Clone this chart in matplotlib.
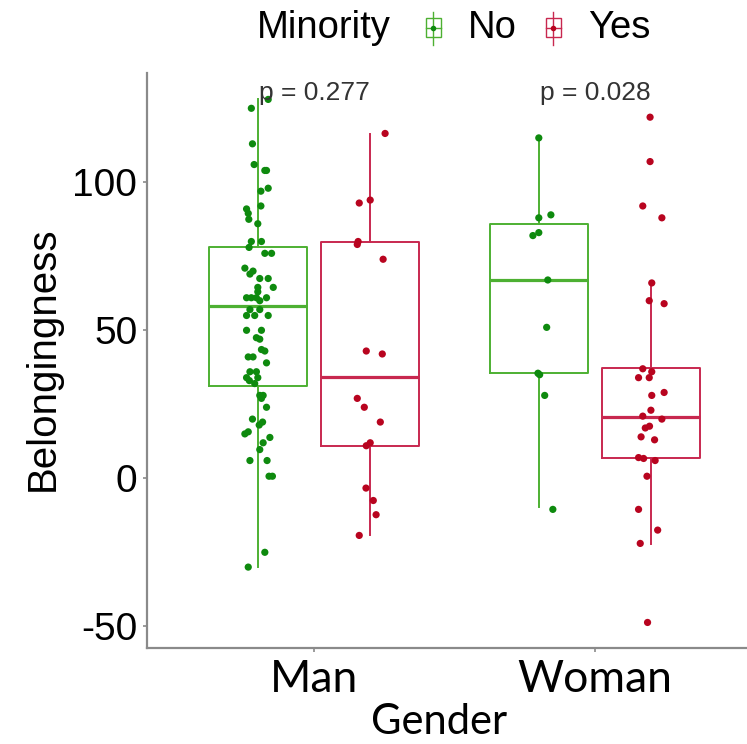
import matplotlib
matplotlib.use("Agg")
import matplotlib.pyplot as plt
from matplotlib.patches import Rectangle
from matplotlib.lines import Line2D

plt.rcParams['axes.unicode_minus'] = False
plt.rcParams['font.family'] = ['Liberation Sans', 'DejaVu Sans']

# ---------------- data ----------------
genders = ["Man", "Woman"]
minority_levels = ["No", "Yes"]

man_no = [128, 125, 113, 106, 104, 104, 98, 97, 92, 91, 89.5, 87.5, 86, 80, 80, 78, 76, 76, 71, 70,
          69, 67.5, 67.5, 64.5, 64.5, 63, 61, 61, 61, 61, 60, 57, 57, 55, 55, 55, 50, 50, 47.5, 47,
          43.5, 43, 41, 41, 39, 36, 36, 34, 34, 33, 32, 28, 28, 27, 24, 20, 19, 18, 15.7, 15,
          13.8, 12, 9.7, 6, 6, 0.7, 0.7, -25, -30]
man_no_jit = [0.037, -0.023, -0.019, -0.013, 0.025, 0.031, 0.037, 0.011, 0.011, -0.04,
              -0.034, -0.032, 0, -0.023, 0.013, -0.031, 0.025, 0.049, -0.046, -0.017,
              -0.028, 0.007, 0.037, 0, 0.055, 0, -0.04, -0.023, -0.005, 0.031,
              0.007, -0.028, 0.007, -0.04, -0.011, 0.037, -0.04, 0.013, -0.005, 0.007,
              0.013, 0.025, -0.034, -0.017, 0.031, -0.028, -0.005, -0.04, 0, -0.03,
              -0.011, 0.007, 0.019, 0.013, 0.031, -0.019, 0.017, 0.005, -0.034, -0.046,
              0.043, 0.019, 0.007, -0.028, 0.033, 0.04, 0.052, 0.025, -0.034]

man_yes = [116.5, 94, 93, 80, 79, 74, 43, 42, 27, 24, 19, 12, 11, -3.3, -7.5, -12.3, -19.3]
man_yes_jit = [0.053, 0, -0.039, -0.043, -0.046, 0.046, -0.014, 0.043, -0.046, -0.021,
               0.036, 0, -0.014, -0.015, 0.011, 0.021, -0.039]

woman_no = [115, 89, 88, 83, 82, 67, 51, 35.5, 35, 28, -10.5]
woman_no_jit = [0, 0.043, 0, 0, -0.021, 0.032, 0.028, -0.003, 0.003, 0.021, 0.05]

woman_yes = [122, 107, 92, 88, 66, 60, 59, 37, 36, 34, 34, 29, 28, 23, 21, 20, 17.6, 17,
             14, 13, 7, 6.7, 6, 0.7, -10.5, -17.5, -22, -48.7]
woman_yes_jit = [-0.004, -0.004, -0.03, 0.038, 0.002, -0.007, 0.046, -0.03, 0.002, -0.045,
                 -0.007, 0.046, 0.002, -0.001, -0.03, 0.038, -0.006, -0.021, -0.036, 0.012,
                 -0.045, -0.027, 0.014, -0.015, -0.045, 0.023, -0.039, -0.013]

# box statistics (order: Man-No, Man-Yes, Woman-No, Woman-Yes)
box_lo = [-30.0, -19.3, -9.7, -22.1]
box_q1 = [31.2, 10.8, 35.5, 6.9]
box_med = [58.3, 34.3, 67.1, 20.8]
box_q3 = [78.3, 79.8, 85.8, 37.2]
box_hi = [128.0, 116.3, 115.0, 65.5]

p_values = ["p = 0.277", "p = 0.028"]
y_ticks = [-50, 0, 50, 100]

# ---------------- styling ----------------
W, H = 747, 744
box_cols = ["#4DB032", "#C8284F"]
pt_cols = ["#0E8A0E", "#B8041F"]
spine_col = "#8a8a8a"

fig = plt.figure(figsize=(W / 100, H / 100), dpi=100)
ax = fig.add_axes([147 / W, 1 - 648 / H, 615 / W, (648 - 73) / H])

group_pos = [1, 2]
dodge = 0.2
positions = []
for g in group_pos:
    positions += [g - dodge, g + dodge]

for i in range(4):
    st = dict(whislo=box_lo[i], q1=box_q1[i], med=box_med[i],
              q3=box_q3[i], whishi=box_hi[i], fliers=[])
    c = box_cols[i % 2]
    ax.bxp([st], positions=[positions[i]], widths=0.35, showfliers=False, showcaps=False,
           boxprops=dict(color=c, linewidth=1.4),
           whiskerprops=dict(color=c, linewidth=1.4),
           medianprops=dict(color=c, linewidth=2.3),
           manage_ticks=False, zorder=2)

series = [(man_no, man_no_jit), (man_yes, man_yes_jit),
          (woman_no, woman_no_jit), (woman_yes, woman_yes_jit)]
for i, (vals, jit) in enumerate(series):
    xs = [positions[i] + j for j in jit]
    ax.scatter(xs, vals, s=27, color=pt_cols[i % 2], edgecolors='none', zorder=3)

for g, p in zip(group_pos, p_values):
    ax.text(g, 127.8, p, ha='center', va='baseline', fontsize=19, color='#333333', zorder=4)

ax.set_xlim(1 - 167 / 281, 1 + 448 / 281)
ax.set_ylim((478.3 - 648) / 2.96, (478.3 - 73) / 2.96)

ax.set_yticks(y_ticks)
ax.set_yticklabels([str(t) for t in y_ticks], fontsize=28)
ax.set_xticks(group_pos)
ax.set_xticklabels(genders, fontsize=32, family=['Lato', 'DejaVu Sans'])

ax.tick_params(axis='both', colors=spine_col, length=3, width=1.2)
ax.tick_params(axis='y', labelcolor='black', pad=4)
ax.tick_params(axis='x', labelcolor='black', pad=5)

for s in ['top', 'right']:
    ax.spines[s].set_visible(False)
for s in ['left', 'bottom']:
    ax.spines[s].set_color(spine_col)
    ax.spines[s].set_linewidth(1.6)

ax.set_ylabel("Belongingness", fontsize=29)
ax.yaxis.set_label_coords((62 - 147) / 615, 0.5 + 1.5 / 575)
ax.set_xlabel("Gender", fontsize=30, family=['Lato', 'DejaVu Sans'])
ax.xaxis.set_label_coords((439 - 147) / 615, -(703 - 648) / 575)

# ---------------- legend (top, horizontal) ----------------
def fx(x):
    return x / W

def fy(y):
    return 1 - y / H

fig.text(fx(257), fy(38), "Minority", fontsize=27.5, va='baseline', ha='left')
for cx, lab, tx, c, pc in [(433, "No", 468, box_cols[0], pt_cols[0]),
                           (553, "Yes", 588, box_cols[1], pt_cols[1])]:
    fig.add_artist(Line2D([fx(cx), fx(cx)], [fy(12), fy(45)], color=c, lw=1.0,
                          transform=fig.transFigure))
    fig.add_artist(Rectangle((fx(cx - 7.5), fy(37)), 15 / W, 19 / H, facecolor='white',
                             edgecolor=c, lw=1.0, transform=fig.transFigure))
    fig.add_artist(Line2D([fx(cx - 7.5), fx(cx + 7.5)], [fy(28), fy(28)], color=c, lw=1.0,
                          transform=fig.transFigure))
    fig.add_artist(Line2D([fx(cx)], [fy(28)], marker='o', markersize=4, color=pc,
                          markeredgewidth=0, transform=fig.transFigure))
    fig.text(fx(tx), fy(38), lab, fontsize=27.5, va='baseline', ha='left')

fig.savefig("out.png", dpi=100)
